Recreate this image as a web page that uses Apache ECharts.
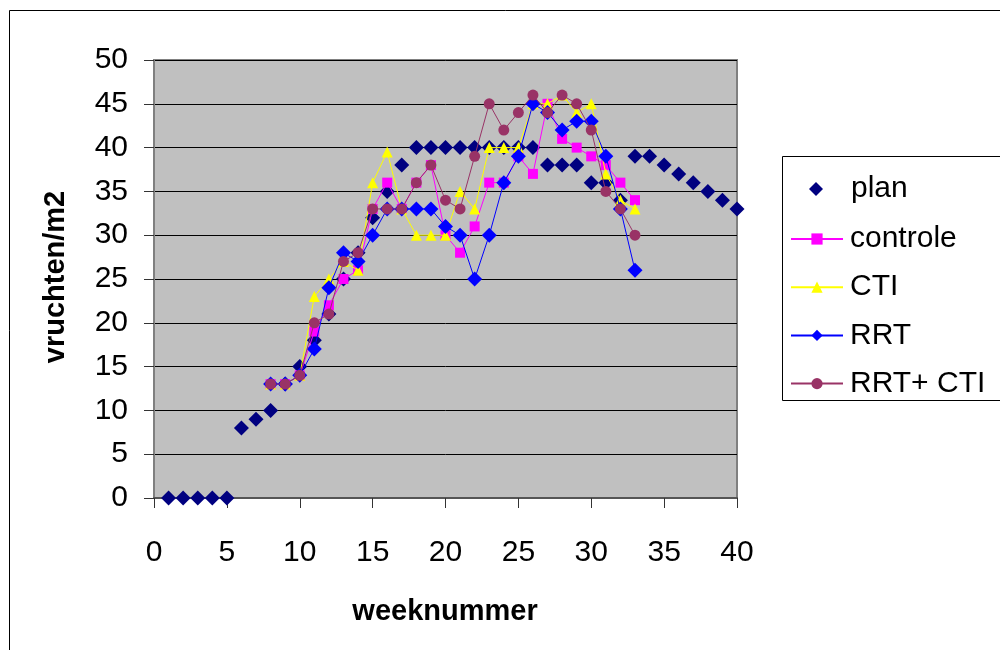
<!DOCTYPE html>
<html>
<head>
<meta charset="utf-8">
<script src="https://cdn.jsdelivr.net/npm/echarts@6/dist/echarts.min.js"></script>
<style>
html,body{margin:0;padding:0;background:#fff;}
#chart{width:1000px;height:650px;}
</style>
</head>
<body>
<div id="chart"></div>
<script>
// weeks
var planWeeks = [1,2,3,4,5,6,7,8,9,10,11,12,13,14,15,16,17,18,19,20,21,22,23,24,25,26,27,28,29,30,31,32,33,34,35,36,37,38,39,40];
var planValues = [0,0,0,0,0,8,9,10,13,15,18,21,25,28,32,35,38,40,40,40,40,40,40,40,40,40,38,38,38,36,36,34,39,39,38,37,36,35,34,33];

var trialWeeks = [8,9,10,11,12,13,14,15,16,17,18,19,20,21,22,23,24,25,26,27,28,29,30,31,32,33];
var controleValues = [13,13,14,19,22,25,26,33,36,33,36,38,30,28,31,36,36,39,37,45,41,40,39,38,36,34];
var ctiValues      = [13,13,14,23,25,27,26,36,39.5,33,30,30,30,35,33,40,40,40,45,45,46,44,45,37,34,33];
var rrtValues      = [13,13,14,17,24,28,27,30,33,33,33,33,31,30,25,30,36,39,45,44,42,43,43,39,33,26];
var rrtCtiValues   = [13,13,14,20,21,27,28,33,33,33,36,38,34,33,39,45,42,44,46,44,46,45,42,35,33,30];

var xTicks = [0,5,10,15,20,25,30,35,40];
var yTicks = [0,5,10,15,20,25,30,35,40,45,50];

var seriesNames = ['plan','controle','CTI','RRT','RRT+ CTI'];

function pairs(xs, ys){ return xs.map(function(x,i){ return [x, ys[i]]; }); }

var FONT = "'Liberation Sans', Arial, sans-serif";

var chart = echarts.init(document.getElementById('chart'), null, {renderer:'canvas'});
chart.setOption({
  backgroundColor:'#ffffff',
  animation:false,
  grid:{left:154, top:60, width:583, height:438, show:true, backgroundColor:'#C0C0C0', borderColor:'#808080', borderWidth:2, containLabel:false, outerBoundsMode:'none'},
  xAxis:{
    type:'value', min:xTicks[0], max:xTicks[xTicks.length-1], interval:5,
    axisLine:{show:true, onZero:false, lineStyle:{color:'#555555', width:2}},
    axisTick:{show:true, length:10, inside:false, lineStyle:{color:'#333333', width:1}},
    axisLabel:{color:'#000', fontSize:30, fontFamily:FONT, margin:40},
    splitLine:{show:false}
  },
  yAxis:{
    type:'value', min:yTicks[0], max:yTicks[yTicks.length-1], interval:5,
    axisLine:{show:true, lineStyle:{color:'#808080', width:2}},
    axisTick:{show:true, length:10, inside:false, lineStyle:{color:'#333333', width:1}},
    axisLabel:{color:'#000', fontSize:30, fontFamily:FONT, margin:26},
    splitLine:{show:true, lineStyle:{color:'#000000', width:1}}
  },
  legend:[
    {
      orient:'vertical', left:809, top:174,
      data:[{name:seriesNames[0], icon:'diamond'}],
      padding:0, itemWidth:14, itemHeight:14,
      textStyle:{color:'#000', fontSize:30, fontFamily:FONT, padding:[0,0,0,23]}
    },
    {
      orient:'vertical', left:790, top:224,
      data:seriesNames.slice(1),
      padding:0, itemGap:18.2, itemWidth:52, itemHeight:14,
      textStyle:{color:'#000', fontSize:30, fontFamily:FONT, padding:[0,0,0,2]}
    }
  ],
  graphic:[
    {type:'rect', shape:{x:9.5, y:10.5, width:1000, height:700}, style:{fill:'none', stroke:'#000', lineWidth:1}, z:-10, silent:true},
    {type:'rect', shape:{x:782.5, y:156.5, width:240, height:244}, style:{fill:'#fff', stroke:'#000', lineWidth:1}, z:-5, silent:true},
    {type:'text', x:445, y:612, style:{text:'weeknummer', font:'bold 29px '+FONT, fill:'#000', align:'center', verticalAlign:'middle'}},
    {type:'text', x:56, y:277, rotation:Math.PI/2, style:{text:'vruchten/m2', font:'bold 29px '+FONT, fill:'#000', align:'center', verticalAlign:'middle'}}
  ],
  series:[
    {name:seriesNames[0], type:'scatter', data:pairs(planWeeks, planValues), symbol:'diamond', symbolSize:[15,15], itemStyle:{color:'#000080', opacity:1}, z:2},
    {name:seriesNames[1], type:'line', data:pairs(trialWeeks, controleValues), symbol:'rect', symbolSize:10, showAllSymbol:true, lineStyle:{color:'#FF00FF', width:1}, itemStyle:{color:'#FF00FF'}, z:3},
    {name:seriesNames[2], type:'line', data:pairs(trialWeeks, ctiValues), symbol:'triangle', symbolSize:11, showAllSymbol:true, lineStyle:{color:'#FFFF00', width:1}, itemStyle:{color:'#FFFF00'}, z:4},
    {name:seriesNames[3], type:'line', data:pairs(trialWeeks, rrtValues), symbol:'diamond', symbolSize:15, showAllSymbol:true, lineStyle:{color:'#0000FF', width:1}, itemStyle:{color:'#0000FF'}, z:5},
    {name:seriesNames[4], type:'line', data:pairs(trialWeeks, rrtCtiValues), symbol:'circle', symbolSize:11, showAllSymbol:true, lineStyle:{color:'#993366', width:1}, itemStyle:{color:'#993366'}, z:6}
  ]
});
</script>
</body>
</html>
